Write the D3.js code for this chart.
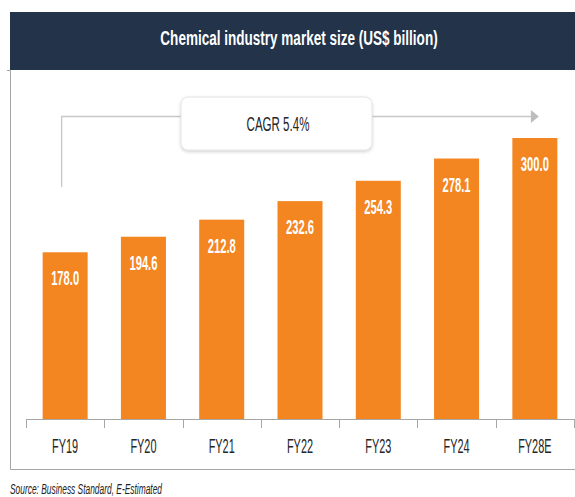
<!DOCTYPE html>
<html>
<head>
<meta charset="utf-8">
<script src="https://cdn.jsdelivr.net/npm/d3@7"></script>
<style>
  html, body { margin: 0; padding: 0; background: #fff; }
  svg { display: block; }
</style>
</head>
<body>
<div id="chart"></div>
<script>
// data
let categories = ["FY19", "FY20", "FY21", "FY22", "FY23", "FY24", "FY28E"];
let values = [178.0, 194.6, 212.8, 232.6, 254.3, 278.1, 300.0];
let title = "Chemical industry market size (US$ billion)";
let cagrLabel = "CAGR 5.4%";
let source = "Source: Business Standard, E-Estimated";

let width = 575;
let height = 497;
let baseY = 419;
let font = "'Liberation Sans', Arial, sans-serif";

let svg = d3.select("#chart")
  .append("svg")
  .attr("width", width)
  .attr("height", height);

// drop shadow for the CAGR box
let defs = svg.append("defs");
let f = defs.append("filter").attr("id", "sh")
  .attr("x", "-10%").attr("y", "-20%").attr("width", "120%").attr("height", "150%");
f.append("feDropShadow")
  .attr("dx", 0).attr("dy", 1.5).attr("stdDeviation", 1.5)
  .attr("flood-color", "#000").attr("flood-opacity", 0.18);

// header
svg.append("rect")
  .attr("x", 10).attr("y", 12)
  .attr("width", width - 10).attr("height", 58)
  .attr("fill", "#22334a");
svg.append("text")
  .attr("transform", "translate(299,45) scale(0.66,1)")
  .attr("text-anchor", "middle")
  .attr("font-family", font)
  .attr("font-weight", "bold")
  .attr("font-size", "20.5px")
  .attr("fill", "#fff")
  .text(title);

// panel border
svg.append("path")
  .attr("d", "M7,70.5H10.5V469.5H" + width)
  .attr("fill", "none")
  .attr("stroke", "#a6a6a6")
  .attr("stroke-width", 1);

// scales
let xScale = d3.scaleBand()
  .domain(categories)
  .range([26, 574])
  .paddingInner(0.425)
  .paddingOuter(0.2125);

let yScale = d3.scaleLinear()
  .domain([0, 300])
  .range([baseY, 138]);

let step = xScale.step();
let first = xScale(categories[0]) - xScale.paddingInner() * step / 2;

// CAGR bracket arrow
let bx0 = xScale(categories[0]) + 19;
let bx1 = xScale(categories[categories.length - 1]) + xScale.bandwidth() / 2 - 4;
svg.append("path")
  .attr("d", "M" + bx0 + ",187V116.5H" + bx1)
  .attr("fill", "none")
  .attr("stroke", "#c8c8c8")
  .attr("stroke-width", 1.3);
svg.append("path")
  .attr("d", "M" + bx1 + ",110L" + (bx1 + 8) + ",116.5L" + bx1 + ",123Z")
  .attr("fill", "#bdbdbd");

svg.append("rect")
  .attr("x", 181).attr("y", 97)
  .attr("width", 191).attr("height", 53)
  .attr("rx", 7)
  .attr("fill", "#fff")
  .attr("stroke", "#e3e3e3")
  .attr("filter", "url(#sh)");
svg.append("text")
  .attr("transform", "translate(278,131) scale(0.55,1)")
  .attr("text-anchor", "middle")
  .attr("font-family", font)
  .attr("font-size", "21px")
  .attr("fill", "#262626")
  .text(cagrLabel);

// bars
svg.append("g")
  .selectAll("rect")
  .data(values)
  .enter()
  .append("rect")
  .attr("x", function(d, i) { return xScale(categories[i]); })
  .attr("y", function(d) { return yScale(d); })
  .attr("width", xScale.bandwidth())
  .attr("height", function(d) { return baseY - yScale(d); })
  .attr("fill", "#f38621");

// value labels
svg.append("g")
  .selectAll("text")
  .data(values)
  .enter()
  .append("text")
  .attr("transform", function(d, i) {
    let cx = xScale(categories[i]) + xScale.bandwidth() / 2;
    return "translate(" + cx + "," + (yScale(d) + 33) + ") scale(0.56,1)";
  })
  .attr("text-anchor", "middle")
  .attr("font-family", font)
  .attr("font-weight", "bold")
  .attr("font-size", "20px")
  .attr("fill", "#fff")
  .text(function(d) { return d.toFixed(1); });

// x axis
let axisx = d3.axisBottom(xScale).tickSize(0);
let gx = svg.append("g")
  .attr("transform", "translate(0," + baseY + ")")
  .call(axisx);
gx.select(".domain").remove();
gx.selectAll("text")
  .attr("y", null)
  .attr("dy", null)
  .attr("transform", "translate(0,34) scale(0.52,1)")
  .attr("font-family", font)
  .attr("font-size", "21px")
  .attr("fill", "#262626");

svg.append("line")
  .attr("x1", first).attr("x2", first + step * categories.length)
  .attr("y1", baseY + 0.5).attr("y2", baseY + 0.5)
  .attr("stroke", "#a6a6a6");
svg.append("g")
  .selectAll("line")
  .data(d3.range(categories.length + 1))
  .enter()
  .append("line")
  .attr("x1", function(i) { return Math.round(first + i * step) + 0.5; })
  .attr("x2", function(i) { return Math.round(first + i * step) + 0.5; })
  .attr("y1", baseY)
  .attr("y2", baseY + 9)
  .attr("stroke", "#a6a6a6");

// source
svg.append("text")
  .attr("transform", "translate(10,494) scale(0.56,1)")
  .attr("font-family", font)
  .attr("font-style", "italic")
  .attr("font-size", "15px")
  .attr("fill", "#222")
  .text(source);
</script>
</body>
</html>
